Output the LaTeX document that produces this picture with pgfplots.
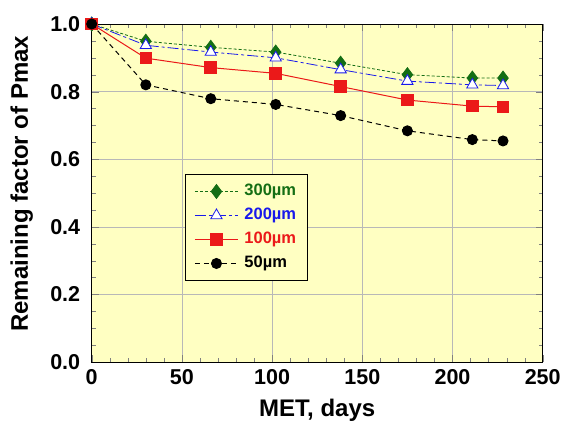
\documentclass[border=0pt]{standalone}
\usepackage{fontspec}
\setmainfont{Liberation Sans}
\usepackage{pgfplots}
\pgfplotsset{compat=1.18}
\definecolor{bgy}{RGB}{255,255,194}
\definecolor{dgreen}{RGB}{20,110,20}
\definecolor{mblue}{RGB}{25,25,235}
\definecolor{mred}{RGB}{235,25,25}
\begin{document}
\begin{tikzpicture}
\begin{axis}[
  scale only axis, width=451pt, height=338pt,
  at={(0,0)}, anchor=south west,
  xmin=0, xmax=250, ymin=0, ymax=1.0,
  xtick={0,50,...,250}, ytick={0,0.2,...,1.0},
  minor x tick num=4, minor y tick num=3,
  tick align=inside, tick pos=both,
  major tick length=7pt, minor tick length=4pt,
  grid=major, major grid style={black!28, line width=0.5pt},
  axis line style={line width=1pt},
  axis background/.style={fill=bgy},
  /pgf/number format/assume math mode=true,
  /pgf/number format/fixed, /pgf/number format/fixed zerofill,
  yticklabel style={/pgf/number format/precision=1, font=\fontsize{21.5}{24}\selectfont\bfseries, xshift=-8pt},
  xticklabel style={/pgf/number format/precision=0, /pgf/number format/fixed zerofill=false, font=\fontsize{21.5}{24}\selectfont\bfseries, yshift=-3.5pt},
  xlabel={MET, days},
  ylabel={Remaining factor of Pmax},
  every axis x label/.style={at={(axis description cs:0.5,0)}, anchor=base, yshift=-54pt, font=\fontsize{24}{28}\selectfont\bfseries},
  every axis y label/.style={at={(axis description cs:0,0.527)}, anchor=center, xshift=-70pt, rotate=90, font=\fontsize{24}{28}\selectfont\bfseries},
  clip=false,
  legend style={at={(axis description cs:0.207,0.556)}, anchor=north west, fill=bgy, draw=black, line width=0.8pt,
    font=\fontsize{16.5}{18}\selectfont\bfseries, row sep=0pt, column sep=4pt, inner xsep=9pt, inner ysep=5pt,
    nodes={text height=12pt, text depth=4pt, inner ysep=4pt, inner xsep=2pt}},
  legend cell align=left,
  legend image code/.code={\draw[mark repeat=2,mark phase=2] plot coordinates {(0pt,0pt) (21.5pt,0pt) (43pt,0pt)};},
]
\addplot[dgreen, line width=0.8pt, dash pattern=on 3pt off 2pt, mark=diamond*, mark size=7pt, mark options={solid, fill=dgreen, draw=dgreen}]
  coordinates {(0,1.0) (30,0.949) (66,0.931) (102,0.917) (138,0.884) (175,0.850) (211,0.840) (228,0.840)};
\addlegendentry{\textcolor{dgreen}{300µm}}
\addplot[mblue, line width=0.8pt, dash pattern=on 11pt off 3pt on 3pt off 3pt, mark=triangle*, mark size=6.5pt, mark options={solid, fill=white, draw=mblue, line width=0.8pt}]
  coordinates {(0,1.0) (30,0.937) (66,0.917) (102,0.900) (138,0.865) (175,0.831) (211,0.820) (228,0.818)};
\addlegendentry{\textcolor{mblue}{200µm}}
\addplot[mred, line width=1pt, mark=square*, mark size=5.8pt, mark options={solid, fill=mred, draw=mred}]
  coordinates {(0,1.0) (30,0.899) (66,0.871) (102,0.854) (138,0.815) (175,0.775) (211,0.757) (228,0.755)};
\addlegendentry{\textcolor{mred}{100µm}}
\addplot[black, line width=1pt, dash pattern=on 5pt off 4pt, mark=*, mark size=5pt, mark options={solid, fill=black}]
  coordinates {(0,1.0) (30,0.820) (66,0.779) (102,0.762) (138,0.729) (175,0.684) (211,0.658) (228,0.654)};
\addlegendentry{50µm}
\end{axis}
\pgfresetboundingbox
\path[use as bounding box] (-91.7pt,-59pt) rectangle (472.3pt,362pt);
\end{tikzpicture}
\end{document}
